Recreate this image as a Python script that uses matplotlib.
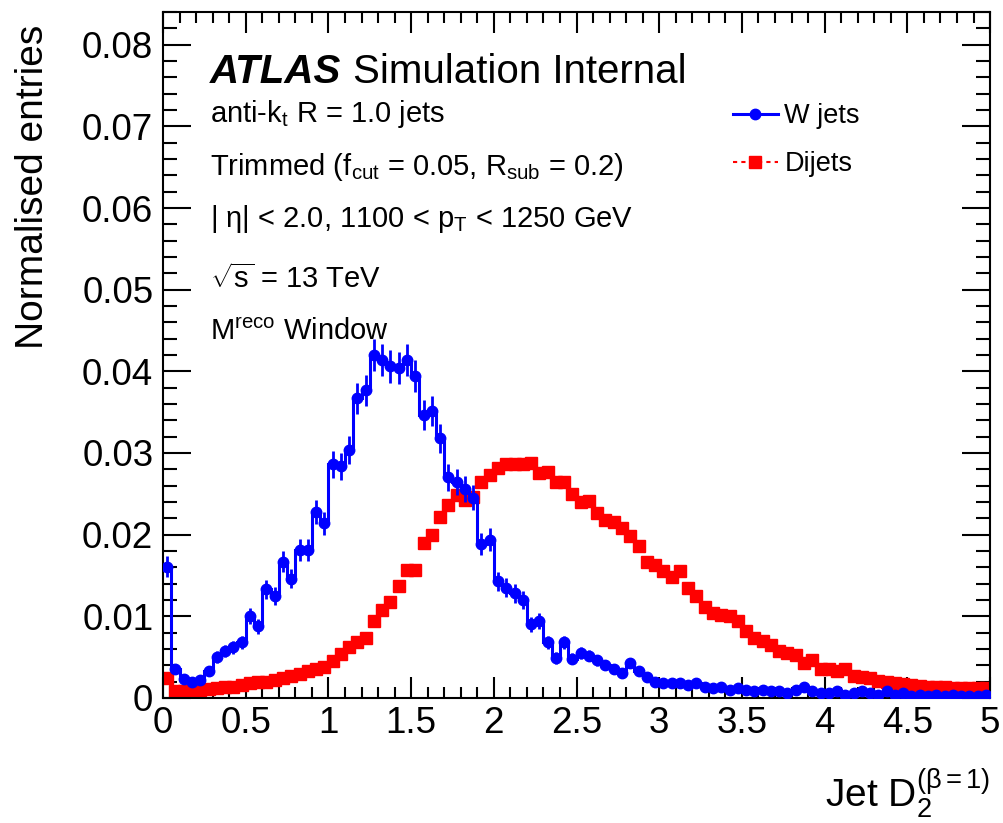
import numpy as np
import matplotlib
matplotlib.use("Agg")
import matplotlib.pyplot as plt
from matplotlib.lines import Line2D
from matplotlib.ticker import MultipleLocator, FuncFormatter

# ---------------- data ----------------
x_min, x_max, n_bins = 0.0, 5.0, 100

w_jets = [
    0.0161, 0.0035, 0.0023, 0.0019, 0.0022, 0.0033, 0.0050, 0.0057, 0.0062, 0.0068,
    0.0100, 0.0088, 0.0133, 0.0125, 0.0167, 0.0146, 0.0181, 0.0181, 0.0228, 0.0214,
    0.0286, 0.0284, 0.0304, 0.0367, 0.0377, 0.0420, 0.0414, 0.0406, 0.0404, 0.0414,
    0.0394, 0.0347, 0.0351, 0.0318, 0.0270, 0.0264, 0.0256, 0.0245, 0.0188, 0.0194,
    0.0143, 0.0135, 0.0128, 0.0120, 0.0090, 0.0094, 0.0068, 0.0049, 0.0068, 0.0048,
    0.0055, 0.0052, 0.0046, 0.0040, 0.0035, 0.0030, 0.0043, 0.0033, 0.0026, 0.0020,
    0.0018, 0.0018, 0.0018, 0.0016, 0.0018, 0.0014, 0.0012, 0.0014, 0.0010, 0.0012,
    0.0010, 0.0008, 0.0010, 0.0008, 0.0008, 0.0006, 0.0010, 0.0014, 0.0008, 0.0006,
    0.0006, 0.0008, 0.0004, 0.0006, 0.0008, 0.0006, 0.0004, 0.0008, 0.0004, 0.0006,
    0.0002, 0.0004, 0.0002, 0.0004, 0.0002, 0.0004, 0.0002, 0.0003, 0.0002, 0.0004,
]

dijets = [
    0.0024, 0.0008, 0.0008, 0.0009, 0.0010, 0.0011, 0.0012, 0.0013, 0.0014, 0.0016,
    0.0018, 0.0020, 0.0020, 0.0022, 0.0024, 0.0027, 0.0029, 0.0033, 0.0035, 0.0038,
    0.0045, 0.0054, 0.0062, 0.0068, 0.0074, 0.0094, 0.0108, 0.0117, 0.0137, 0.0157,
    0.0157, 0.0190, 0.0200, 0.0222, 0.0236, 0.0249, 0.0243, 0.0246, 0.0265, 0.0273,
    0.0282, 0.0286, 0.0286, 0.0286, 0.0288, 0.0276, 0.0277, 0.0265, 0.0265, 0.0250,
    0.0240, 0.0241, 0.0226, 0.0218, 0.0216, 0.0208, 0.0198, 0.0186, 0.0167, 0.0163,
    0.0155, 0.0148, 0.0155, 0.0135, 0.0125, 0.0112, 0.0104, 0.0102, 0.0101, 0.0094,
    0.0082, 0.0074, 0.0070, 0.0065, 0.0057, 0.0055, 0.0053, 0.0043, 0.0047, 0.0035,
    0.0035, 0.0033, 0.0035, 0.0027, 0.0026, 0.0024, 0.0021, 0.0020, 0.0018, 0.0017,
    0.0016, 0.0015, 0.0014, 0.0013, 0.0013, 0.0012, 0.0012, 0.0012, 0.0012, 0.0012,
]

x_ticks = [0, 0.5, 1, 1.5, 2, 2.5, 3, 3.5, 4, 4.5, 5]
y_ticks = [0, 0.01, 0.02, 0.03, 0.04, 0.05, 0.06, 0.07, 0.08]
series_labels = ["W jets", "Dijets"]

# ---------------- style ----------------
plt.rcParams['font.family'] = ['Liberation Sans', 'DejaVu Sans']
plt.rcParams['mathtext.fontset'] = 'custom'
plt.rcParams['mathtext.rm'] = 'Liberation Sans'
plt.rcParams['mathtext.it'] = 'Liberation Sans:italic'
plt.rcParams['mathtext.bf'] = 'Liberation Sans:bold'

fig = plt.figure(figsize=(10.04, 8.23), dpi=100)
ax = fig.add_axes([0.1624, 0.1519, 0.8237, 0.8335])

edges = np.linspace(x_min, x_max, n_bins + 1)
centers = 0.5 * (edges[:-1] + edges[1:])
w = np.array(w_jets)
d = np.array(dijets)
err_w = 0.0098 * np.sqrt(w)

ax.errorbar(centers, d, fmt='s', ms=9, color='red', mec='red', lw=0, zorder=2)
ax.stairs(w, edges, baseline=None, color='blue', lw=2.2, zorder=3)
ax.errorbar(centers, w, yerr=err_w, fmt='o', ms=7.5, color='blue', mec='blue',
            elinewidth=2, capsize=0, lw=0, zorder=3)

ax.set_xlim(x_min, x_max)
ax.set_ylim(0, 0.084)
ax.set_xticks(x_ticks)
ax.set_yticks(y_ticks)
ax.xaxis.set_minor_locator(MultipleLocator(0.1))
ax.yaxis.set_minor_locator(MultipleLocator(0.002))
fmt = FuncFormatter(lambda v, p: "%g" % round(v, 4))
ax.xaxis.set_major_formatter(fmt)
ax.yaxis.set_major_formatter(fmt)

for s in ax.spines.values():
    s.set_linewidth(1.5)
ax.tick_params(which='both', direction='in', top=True, right=True, width=1.5,
               labelsize=26.5)
ax.tick_params(axis='x', which='major', length=15, pad=6)
ax.tick_params(axis='x', which='minor', length=8)
ax.tick_params(axis='y', which='major', length=20, pad=7)
ax.tick_params(axis='y', which='minor', length=10)

ax.set_ylabel("Normalised entries", fontsize=28)
ax.yaxis.set_label_coords(-0.135, 0.745)
ax.set_xlabel(r"Jet D$_{2}^{(\mathrm{β}=1)}$", fontsize=28, ha='right')
ax.xaxis.set_label_coords(1.0, -0.10)

tx = 0.0568
ax.text(tx, 0.8965, "ATLAS", transform=ax.transAxes, fontsize=29,
        fontweight='bold', fontstyle='italic', va='baseline')
ax.text(0.2297, 0.8965, "Simulation Internal", transform=ax.transAxes,
        fontsize=29, va='baseline')
lines = [
    (0.8397, r"anti-k$_{\mathrm{t}}$ R = 1.0 jets"),
    (0.7624, r"Trimmed (f$_{\mathrm{cut}}$ = 0.05, R$_{\mathrm{sub}}$ = 0.2)"),
    (0.6866, r"| η| < 2.0, 1100 < p$_{\mathrm{T}}$ < 1250 GeV"),
    (0.5977, r"$\sqrt{\mathrm{s}}$ = 13 TeV"),
    (0.5219, r"M$^{\mathrm{reco}}$ Window"),
]
for yy, t in lines:
    ax.text(tx, yy, t, transform=ax.transAxes, fontsize=21, va='baseline')

handles = [
    Line2D([], [], color='blue', lw=2.2, marker='o', ms=7.5),
    Line2D([], [], color='red', lw=1.5, ls=(0, (2, 2)), marker='s', ms=9),
]
ax.legend(handles, series_labels, loc='upper left', bbox_to_anchor=(0.689, 0.8667),
          frameon=False, fontsize=19.5, handlelength=1.65, handletextpad=0.25,
          labelspacing=0.8, borderpad=0, borderaxespad=0)

fig.savefig("out.png", dpi=100)
